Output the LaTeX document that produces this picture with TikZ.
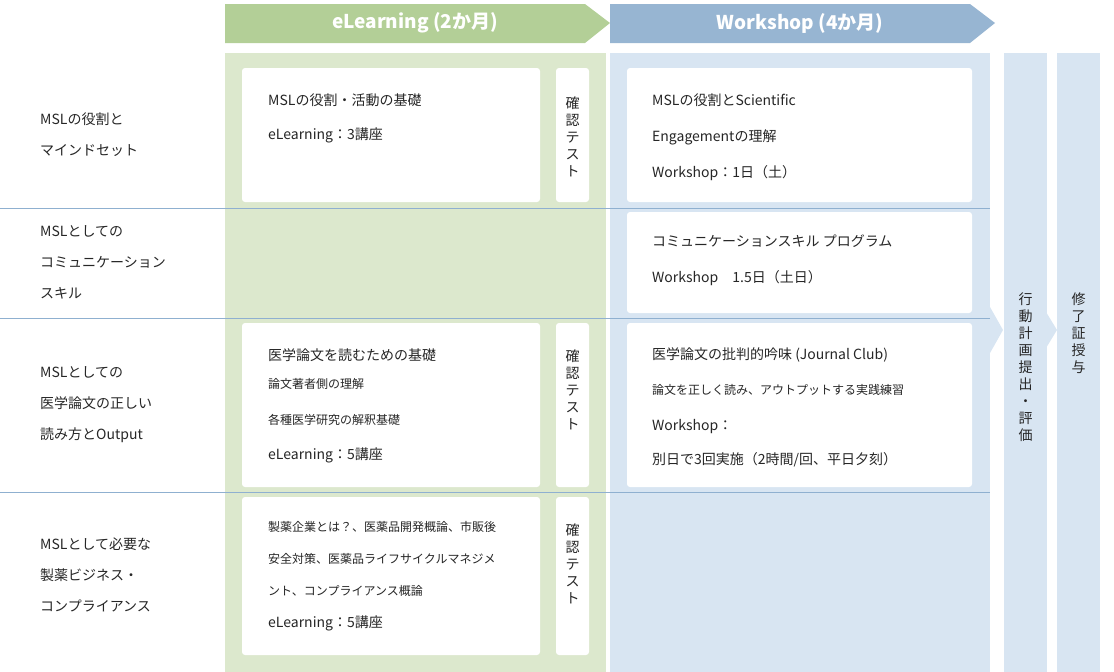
\documentclass[tikz,border=0pt]{standalone}
\usepackage{fontspec}
\setmainfont{Noto Sans CJK JP}
\usetikzlibrary{shapes.arrows}
\definecolor{garrow}{HTML}{B3CF97}
\definecolor{barrow}{HTML}{97B5D2}
\definecolor{gbg}{HTML}{DCE8CD}
\definecolor{bbg}{HTML}{D8E5F2}
\definecolor{sep}{HTML}{8FB0D0}
\definecolor{txt}{HTML}{262626}
\tikzset{
 wbox/.style={fill=white,rounded corners=3pt,draw=none},
 lbl/.style={anchor=north west,align=left,font=\fontsize{14}{31}\selectfont,text=txt,inner sep=0pt},
 vt/.style={anchor=north,align=center,font=\fontsize{14}{17}\selectfont,text=txt,inner sep=0pt},
 hdr/.style={font=\fontsize{19}{22}\selectfont\bfseries,text=white},
}
\begin{document}
\begin{tikzpicture}[x=1pt,y=-1pt]
\useasboundingbox (0,0) rectangle (1114,672);
% header arrows
\fill[garrow] (225,4) -- (585,4) -- (610,23) -- (585,43) -- (225,43) -- cycle;
\fill[barrow] (610,4) -- (970,4) -- (995,23) -- (970,43) -- (610,43) -- cycle;
\node[hdr] (h1) at (415,23) {eLearning (2か月)};
\node[hdr] (h2) at (800,23) {Workshop (4か月)};
% backgrounds
\fill[gbg] (225,53) rectangle (606,672);
\fill[bbg] (610,53) rectangle (990,672);
\fill[bbg] (1004,53) rectangle (1047,672);
\fill[bbg] (1057,53) rectangle (1100,672);
\fill[bbg] (990,307) -- (1003,330) -- (990,353) -- cycle;
\fill[bbg] (1043,307) -- (1057,330) -- (1043,353) -- cycle;
% separators
\foreach \yy in {208,318,492} \draw[sep,line width=0.8pt] (0,\yy) -- (990,\yy);
% row labels
\node[lbl] (r1) at (40,113) {MSLの役割と\\マインドセット};
\node[lbl] (r2) at (40,225) {MSLとしての\\コミュニケーション\\スキル};
\node[lbl] (r3) at (40,366) {MSLとしての\\医学論文の正しい\\読み方とOutput};
\node[lbl] (r4) at (40,538) {MSLとして必要な\\製薬ビジネス・\\コンプライアンス};
% green boxes
\fill[wbox] (242,68) rectangle (540,202);
\fill[wbox] (242,323) rectangle (540,487);
\fill[wbox] (242,497) rectangle (540,655);
\foreach \a/\b in {68/202,323/487,497/655} \fill[wbox] (556,\a) rectangle (589,\b);
\node[lbl,font=\fontsize{14}{34}\selectfont] (g1) at (268,94) {MSLの役割・活動の基礎\\eLearning：3講座};
\node[lbl] (g3a) at (268,348) {医学論文を読むための基礎};
\node[lbl,font=\fontsize{12}{14}\selectfont] (g3b) at (268,378) {論文著者側の理解};
\node[lbl,font=\fontsize{12}{14}\selectfont] (g3c) at (268,414) {各種医学研究の解釈基礎};
\node[lbl] (g3d) at (268,448) {eLearning：5講座};
\node[lbl,font=\fontsize{12}{32}\selectfont] (g4) at (268,521) {製薬企業とは？、医薬品開発概論、市販後\\安全対策、医薬品ライフサイクルマネジメ\\ント、コンプライアンス概論};
\node[lbl] (g4b) at (268,616) {eLearning：5講座};
\foreach \yy/\n in {97/t1,350/t2,524/t3} \node[vt] (\n) at (572.5,\yy) {確\\認\\テ\\ス\\ト};
% blue boxes
\fill[wbox] (627,68) rectangle (972,202);
\fill[wbox] (627,212) rectangle (972,313);
\fill[wbox] (627,323) rectangle (972,487);
\node[lbl,font=\fontsize{14}{36}\selectfont] (b1) at (652,94) {MSLの役割とScientific\\Engagementの理解\\Workshop：1日（土）};
\node[lbl,font=\fontsize{14}{36}\selectfont] (b2) at (652,235) {コミュニケーションスキル プログラム\\Workshop\quad 1.5日（土日）};
\node[lbl] (b3) at (652,347) {医学論文の批判的吟味 (Journal Club)};
\node[lbl,font=\fontsize{12}{14}\selectfont] (b3a) at (652,384) {論文を正しく読み、アウトプットする実践練習};
\node[lbl,font=\fontsize{14}{34}\selectfont] (b3b) at (652,419) {Workshop：\\別日で3回実施（2時間/回、平日夕刻）};
% vertical columns
\node[vt] (c1) at (1025.5,293) {行\\動\\計\\画\\提\\出\\・\\評\\価};
\node[vt] (c2) at (1078.5,293) {修\\了\\証\\授\\与};
\end{tikzpicture}
\end{document}
